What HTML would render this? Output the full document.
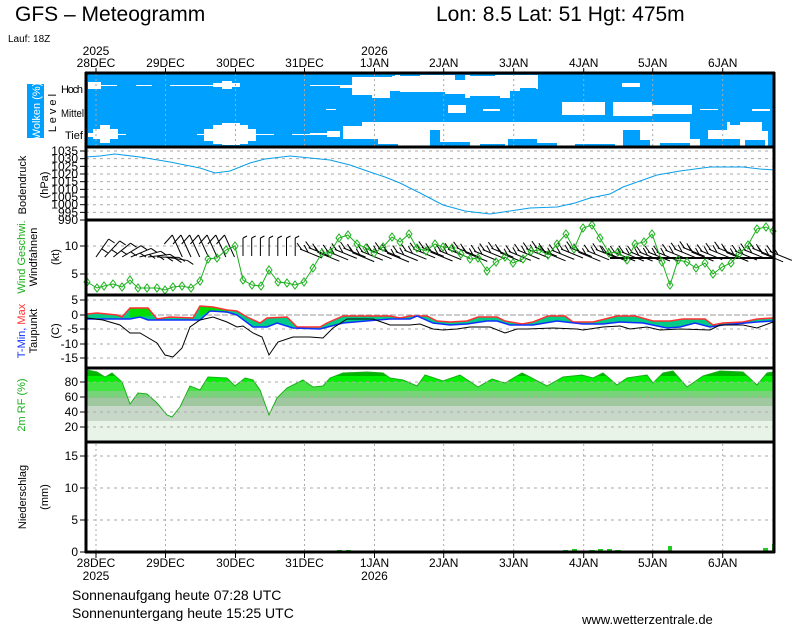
<!DOCTYPE html>
<html><head><meta charset="utf-8"><style>
html,body{margin:0;padding:0;background:#fff;}
svg{display:block;font-family:"Liberation Sans",sans-serif;}
</style></head><body>
<svg id="s" width="800" height="625" viewBox="0 0 800 625" xmlns="http://www.w3.org/2000/svg">
<defs>
<clipPath id="rhc"><polygon id="rhpoly" points=""/></clipPath>
</defs>
<rect width="800" height="625" fill="#fff"/>
<text x="15" y="21" font-size="21">GFS – Meteogramm</text>
<text x="436" y="21" font-size="21">Lon: 8.5 Lat: 51 Hgt: 475m</text>
<text x="8" y="42" font-size="10">Lauf: 18Z</text>
<g id="g"></g>
<text x="72" y="600" font-size="14">Sonnenaufgang heute 07:28 UTC</text>
<text x="72" y="618" font-size="14">Sonnenuntergang heute 15:25 UTC</text>
<text x="582" y="624" font-size="13">www.wetterzentrale.de</text>
</svg>
<script>
var L=86,R=774,o='';
function ln(x1,y1,x2,y2,c,w,d){o+='<line x1="'+x1+'" y1="'+y1+'" x2="'+x2+'" y2="'+y2+'" stroke="'+c+'" stroke-width="'+(w||1)+'"'+(d?' stroke-dasharray="'+d+'"':'')+'/>';}
function tx(x,y,s,t,a,c,ex){o+='<text x="'+x+'" y="'+y+'" font-size="'+s+'"'+(a?' text-anchor="'+a+'"':'')+(c?' fill="'+c+'"':'')+(ex||'')+'>'+t+'</text>';}
function rt(x,y,w,h,c){o+='<rect x="'+x+'" y="'+y+'" width="'+w+'" height="'+h+'" fill="'+c+'"/>';}
function pl(p,c,w){o+='<polyline points="'+p+'" fill="none" stroke="'+c+'" stroke-width="'+(w||1)+'"/>';}
var days=[96,165.5,235.5,304.5,374.5,443.7,513.7,583.7,652.7,722.7];
var names=['28DEC','29DEC','30DEC','31DEC','1JAN','2JAN','3JAN','4JAN','5JAN','6JAN'];
var B='#00a0ff',W='#fff';
rt(L,74,R-L,73,B);
[[88,82,13,7],[101,85,16,1],[136,85,16,1],[170,85,43,1],[310,85,42,1],[213,83,27,4],[222,81,10,8],[352,83,8,5],[326,109,10,1],
[88,133,5,4],[93,129,25,10],[100,125,10,18],[118,134,8,1],[197,134,7,1],[204,129,52,12],[213,125,35,19],[222,123,18,22],[256,134,18,1],[292,134,18,1],[310,133,17,2],[327,131,16,6],[343,125,17,18]].forEach(function(r){rt(r[0],r[1],r[2],r[3],W);});
[[340,85,13,3],[352,75,184,23],[530,75,8,14],[622,83,18,4],
[448,105,18,8],[483,109,17,2],[562,102,43,13],[613,102,39,14],[652,105,40,9],[700,109,18,1],[752,109,18,2],
[340,122,435,25]].forEach(function(r){rt(r[0],r[1],r[2],r[3],W);});
[[352,74,40,3],[380,74,15,2],[400,74,20,2],[455,74,10,6],[470,74,25,2],[352,95,20,3],[390,91,10,7],[400,92,45,6],[445,94,20,4],[470,96,30,2],[510,91,26,7],[520,88,16,4],
[340,122,22,4],[340,126,3,14],[340,139,38,8],[378,144,20,3],[430,130,10,17],[440,142,30,5],[480,144,25,3],[508,139,29,8],[537,143,20,4],[575,144,40,3],[623,130,17,17],[640,140,10,7],[660,143,30,4],
[690,122,37,8],[690,130,18,9],[700,139,40,8],[745,140,20,7],[762,122,12,9],[768,131,6,16],[730,122,10,3]].forEach(function(r){rt(r[0],r[1],r[2],r[3],B);});
days.forEach(function(x){ln(x,74,x,147,'#aaa',1,'2,3');});
var py=[1035,1030,1025,1020,1015,1010,1005,1000,995,990];
py.forEach(function(v,i){var y=151+i*7.67;ln(L,y,R,y,'#aaa',1,'3,4');ln(80,y,L,y,'#000');tx(78,y+4,12,v,'end');});
pl('86,157 100,156 115,154 140,157 170,162 200,168 215,173 230,171 250,163 265,159 290,156 310,158 330,160 350,165 370,172 385,177 400,183 420,193 443,205 465,211 490,214 510,211 530,208 557,207 575,203 590,198 610,194 623,187 640,181 657,175 680,171 710,167 743,167 760,169 775,170','#0a9ee8');
[[246,'10'],[274,'5']].forEach(function(a){ln(L,a[0],R,a[0],'#aaa',1,'3,4');ln(80,a[0],L,a[0],'#000');tx(78,a[0]+4,12,a[1],'end');});
var bx=[];for(var x=96;x<235;x+=8.7)bx.push(x);
bx.forEach(function(x,i){var ang=(i<9)?-55+i*8:-105;var r=ang*Math.PI/180;var x2=x+22*Math.cos(r),y2=257+22*Math.sin(r);
 if(i<9){ln(x,257,x2,y2,'#000');ln(x2,y2,x2+6,y2+4,'#000');ln(x+10*Math.cos(r),257+10*Math.sin(r),x+10*Math.cos(r)+6,257+10*Math.sin(r)+4,'#000');}
 else{ln(x+8,257,x-2,235,'#000');ln(x-2,235,x-10,244,'#000');}});
for(var x=243;x<300;x+=8.7){ln(x,256,x,238,'#000');ln(x,238,x+4,236,'#000');}
for(var x=300;x<775;x+=8.7){var y=255+((x*7)%9)/1.5;if(x>600&&x<660)y=260;ln(x,y-8,x+22,y+1,'#000');ln(x+2,y-7,x-3,y-14,'#000');ln(x+8,y-5,x+4,y-12,'#000');}
ln(610,258,775,258,'#000',2);
var ws='87,282 97,288 104,286 113,284 122,287 130,280 138,288 147,288 157,288 165,290 173,287 182,286 191,288 200,281 208,259 217,258 226,250 235,246 243,280 252,285 261,286 269,270 278,282 287,283 295,285 304,282 313,268 322,253 330,253 339,238 348,235 357,244 366,248 374,253 383,247 392,237 400,242 409,234 417,248 426,251 435,244 443,247 452,248 461,254 470,259 478,258 487,271 496,262 505,257 513,263 523,259 531,251 539,250 548,255 557,244 566,234 574,249 583,228 592,225 600,238 609,253 618,252 627,260 635,244 644,242 652,234 662,262 670,285 678,260 687,262 696,268 705,263 713,274 722,267 731,263 739,254 748,245 757,229 766,227 773,231';
pl(ws,'#1ab01a');
ws.split(' ').forEach(function(p){var a=p.split(',');var x=+a[0],y=+a[1];o+='<polygon points="'+x+','+(y-4)+' '+(x+3)+','+y+' '+x+','+(y+4)+' '+(x-3)+','+y+'" fill="none" stroke="#1ab01a"/>';});
[[300,'5'],[315,'0'],[329,'-5'],[344,'-10'],[358,'-15']].forEach(function(a){ln(L,a[0],R,a[0],a[1]=='0'?'#999':'#aaa',1,a[1]=='0'?'6,2':'3,4');ln(80,a[0],L,a[0],'#000');tx(78,a[0]+4,12,a[1],'end');});
var tmax='87,314 97,313 117,315 122,317 130,308 148,308 157,319 170,317 193,318 200,306 213,307 227,310 237,311 247,317 260,323 267,318 287,317 297,327 320,327 327,323 343,316 390,316 400,318 410,316 427,316 437,321 450,322 467,321 478,317 497,317 505,321 522,324 533,322 548,316 565,316 573,322 593,322 617,316 635,316 653,321 670,321 683,319 705,319 713,325 723,323 743,322 757,319 773,318';
var tmin='87,319 130,319 140,317 148,320 157,320 200,320 210,311 227,312 237,315 253,327 267,327 277,323 293,328 320,329 343,323 390,319 410,319 417,316 433,323 450,325 467,324 487,321 497,321 510,325 533,325 557,321 583,324 603,324 620,322 643,323 667,328 680,327 695,323 710,327 723,325 757,322 773,321';
var rev=tmin.split(' ').reverse().join(' ');
o+='<polygon points="'+tmax+' '+rev+'" fill="#00cc88"/>';
o+='<polygon points="130,308 148,308 152,316 130,317" fill="#00dd00"/><polygon points="200,306 213,307 227,310 228,313 210,311 200,316" fill="#00dd00"/>';
pl(tmax,'#ff3030',1.5);pl(tmin,'#1030ff',1.5);
pl('87,318 103,320 120,325 130,333 140,333 157,343 165,355 173,357 182,348 190,327 200,320 213,317 227,322 237,327 243,326 253,333 262,337 269,355 278,342 293,337 310,337 323,338 333,328 347,319 373,319 390,325 410,325 420,324 433,329 443,330 457,329 470,327 490,327 505,333 517,329 527,329 553,328 577,329 583,330 603,327 620,326 630,329 647,327 660,330 680,329 710,330 720,325 743,325 757,328 773,322','#000');
var rh='87,370 97,372 105,377 112,373 122,382 130,404 138,393 147,394 157,403 167,415 172,417 180,407 190,386 200,390 208,377 227,378 235,386 245,378 253,380 260,390 269,415 277,398 287,388 303,380 313,387 323,386 330,378 343,373 367,372 383,373 390,378 403,380 417,386 425,375 443,381 460,375 478,387 492,379 505,383 522,373 528,376 547,386 563,377 582,375 593,378 603,373 617,385 627,378 647,375 653,383 663,373 673,371 687,387 703,376 720,371 743,372 757,385 767,373 773,372';
document.getElementById('rhpoly').setAttribute('points','86,369 '+rh+' 774,442 86,442');
o+='<g clip-path="url(#rhc)">';
[[368,376,'#00b400'],[376,382,'#00ee00'],[382,391,'#44e444'],[391,398,'#78d478'],[398,406,'#a0c8a0'],[406,421,'#c8d8c8'],[421,442,'#e8f4e8']].forEach(function(b){rt(L,b[0],R-L,b[1]-b[0],b[2]);});
o+='</g>';
pl(rh,'#1ab01a');
[[382,'80'],[397,'60'],[412,'40'],[427,'20']].forEach(function(a){ln(L,a[0],R,a[0],'#aaa',1,'3,4');ln(80,a[0],L,a[0],'#000');tx(78,a[0]+4,12,a[1],'end');});
[[456,'15'],[488,'10'],[520,'5'],[552,'0']].forEach(function(a){if(a[1]!='0')ln(L,a[0],R,a[0],'#aaa',1,'3,4');ln(80,a[0],L,a[0],'#000');tx(78,a[0]+4,12,a[1],'end');});
days.forEach(function(x){ln(x,444,x,552,'#aaa',1,'2,3');});
[[328,5,1],[337,5,2],[346,5,2],[354,6,1],[363,5,1],[459,4,1],[493,6,1],[554,6,1],[563,5,2],[572,5,3],[580,6,1],[589,6,2],[598,5,3],[607,5,3],[615,6,2],[668,4,6],[676,6,1],[685,5,1],[747,4,1],[763,5,4],[772,3,8]].forEach(function(b){rt(b[0],552-b[2],b[1],b[2],'#22cc22');});
[73,147,220,295,368,442,552].forEach(function(y){ln(L-1,y,R+1,y,'#000',3);});
ln(L,72,L,553,'#000',3);ln(R,72,R,553,'#000',3);
days.forEach(function(x,i){ln(x,68,x,74,'#000');ln(x,552,x,558,'#000');tx(x,67,12,names[i],'middle');tx(x,567,12,names[i],'middle');});
tx(96,55,12,'2025','middle');tx(374.5,55,12,'2026','middle');tx(96,580,12,'2025','middle');tx(374.5,580,12,'2026','middle');
rt(27,84,17,54,B);
tx(0,0,11,'Wolken (%)','middle','#fff',' transform="translate(40,111) rotate(-90)"');
tx(0,0,11,'L e v e l','middle','#000',' transform="translate(56,113) rotate(-90)"');
tx(61,93,11,'Hoch',null,null,' textLength="22"');tx(61,117,11,'Mittel',null,null,' textLength="23" lengthAdjust="spacingAndGlyphs"');tx(65,139,11,'Tief');
tx(0,0,11,'Bodendruck','middle','#000',' transform="translate(26,185) rotate(-90)"');
tx(0,0,11,'(hPa)','middle','#000',' transform="translate(48,185) rotate(-90)"');
o+='<text font-size="11" text-anchor="middle" transform="translate(25,257) rotate(-90)"><tspan fill="#1ab01a">Wind Geschwi.</tspan></text>';
tx(0,0,11,'Windfahnen','middle','#000',' transform="translate(37,257) rotate(-90)"');
tx(0,0,11,'(kt)','middle','#000',' transform="translate(59,257) rotate(-90)"');
o+='<text font-size="11" text-anchor="middle" transform="translate(25,331) rotate(-90)"><tspan fill="#1030ff">T-Min, </tspan><tspan fill="#ff3030">Max</tspan></text>';
tx(0,0,11,'Taupunkt','middle','#000',' transform="translate(37,331) rotate(-90)"');
tx(0,0,11,'(C)','middle','#000',' transform="translate(59,331) rotate(-90)"');
tx(0,0,11,'2m  RF  (%)','middle','#1ab01a',' transform="translate(25,405) rotate(-90)"');
tx(0,0,11,'Niederschlag','middle','#000',' transform="translate(26,497) rotate(-90)"');
tx(0,0,11,'(mm)','middle','#000',' transform="translate(48,497) rotate(-90)"');
document.getElementById('g').innerHTML=o;
</script>
</body></html>
